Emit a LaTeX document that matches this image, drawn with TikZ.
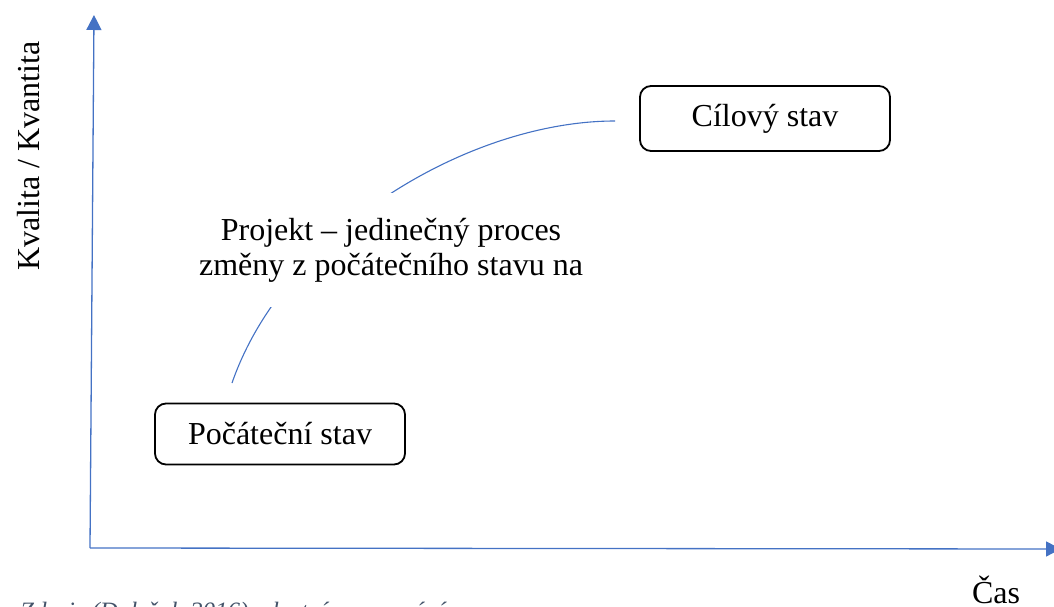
\documentclass[tikz,border=0pt]{standalone}
\usepackage{fontspec}
\setmainfont{Liberation Serif}
\usetikzlibrary{arrows.meta}
\definecolor{axisblue}{HTML}{4472C4}
\definecolor{notegray}{HTML}{44546A}
\begin{document}
\begin{tikzpicture}[x=1pt,y=-1pt,
  axis/.style={draw=axisblue, line width=1.3pt, -{Triangle[length=15pt,width=15pt]}},
  statebox/.style={draw=black, line width=1.8pt, rounded corners=11pt,
    minimum width=250pt, minimum height=61pt, font=\fontsize{32}{35}\selectfont},
  flow/.style={draw=axisblue, line width=1.1pt},
  lbl/.style={font=\fontsize{32}{35}\selectfont, inner sep=0pt}]
\useasboundingbox (0,0) rectangle (1054,607);

% axes
\coordinate (o) at (90,548);
\coordinate (ytip) at (94,15);
\coordinate (xtip) at (1061,549);
\draw[axis] (o) -- (ytip);
\draw[axis] (o) -- (xtip);

\node[lbl, rotate=90] (ylab) at (29,156) {Kvalita / Kvantita};
\node[lbl, anchor=base] (xlab) at (996,603) {Čas};

% states
\node[statebox] (start) at (280,434) {Počáteční stav};
\node[statebox, minimum height=65pt] (goal) at (765,118.5) {Cílový stav};

% transition curve, partly hidden behind its label
\coordinate (c0) at (232,383);
\coordinate (c1) at (615,121);
\draw[flow] (c0) .. controls (285,230) and (470,121) .. (c1);
\node[lbl, fill=white, align=center, minimum height=114pt, inner xsep=2pt] (proj)
  at (391,250) {Projekt – jedinečný proces\\změny z počátečního stavu na};

% source note
\begin{scope}
\clip (0,0) rectangle (1054,607);
\node[anchor=base west, inner sep=0pt, text=notegray,
  font=\fontsize{25}{28}\selectfont\itshape] (src) at (20,619)
  {Zdroj: (Doležal, 2016), vlastní zpracování};
\end{scope}
\end{tikzpicture}
\end{document}
